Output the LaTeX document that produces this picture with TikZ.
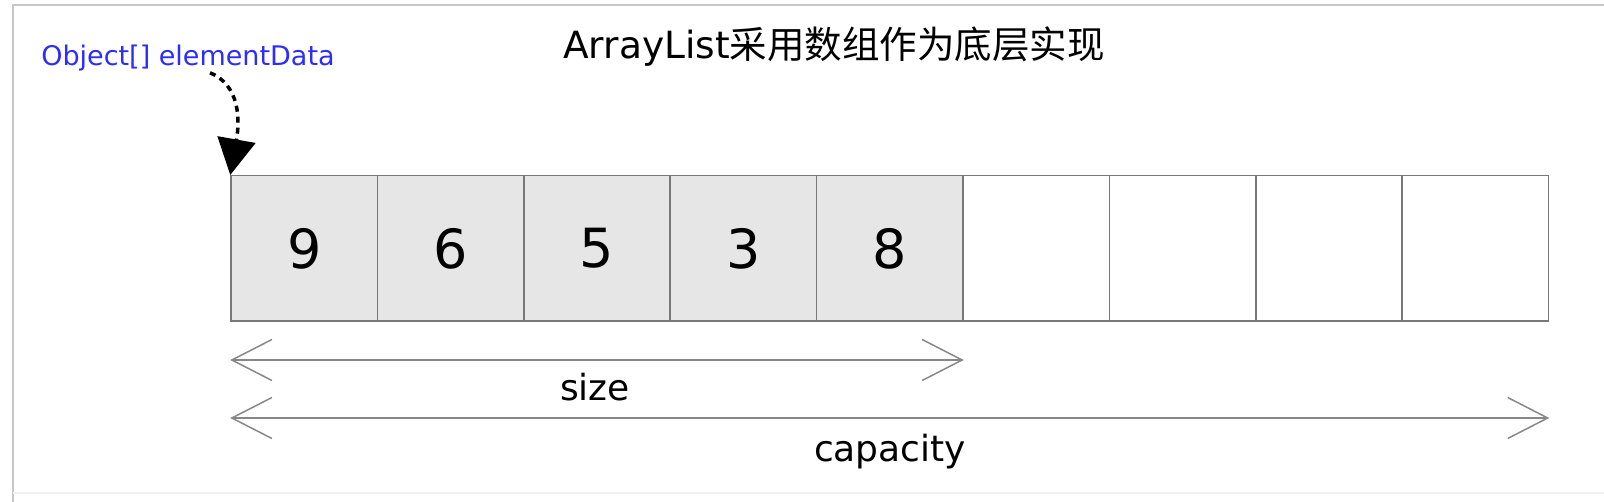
\documentclass[tikz,border=0pt]{standalone}
\usepackage{fontspec}
\setmainfont{DejaVu Sans}
\newfontfamily\cjk{Noto Sans CJK SC}
\usetikzlibrary{arrows.meta,calc}
\definecolor{cellgray}{RGB}{230,230,230}
\definecolor{cellline}{RGB}{120,120,120}
\definecolor{dimgray}{RGB}{136,136,136}
\definecolor{ptrblue}{RGB}{45,45,250}
\definecolor{framegray}{RGB}{200,200,200}
\begin{document}
\begin{tikzpicture}[x=1pt, y=-1pt,
    cell/.style={draw=cellline, line width=1.5pt, minimum width=146.4pt,
        minimum height=145.5pt, inner sep=0pt, font=\fontsize{54}{60}\selectfont},
    dimline/.style={draw=dimgray, line width=1.5pt,
        {Straight Barb[length=40pt,width=41pt]}-{Straight Barb[length=40pt,width=41pt]}},
    label/.style={anchor=base, font=\fontsize{36}{43}\selectfont}]
    \useasboundingbox (0,0) rectangle (1604,502);
    % Frame
    \draw[framegray, line width=2pt] (13,502) -- (13,5) -- (1604,5);
    \draw[black!6, line width=1.5pt] (13,493) -- (1604,493);
    % Title
    \node[label, font=\fontsize{37.5}{44}\selectfont] (title) at (834,59)
        {ArrayList{\cjk 采用数组作为底层实现}};
    % Cells (used)
    \foreach \v [count=\i] in {9,6,5,3,8}
        \node[cell, fill=cellgray] (c\i) at ({231+146.4*(\i-0.5)},248.5) {\v};
    % Cells (free)
    \foreach \i in {6,...,9}
        \node[cell] (c\i) at ({231+146.4*(\i-0.5)},248.5) {};
    % Pointer
    \node[anchor=base, inner sep=1pt, text=ptrblue, font=\fontsize{27}{32}\selectfont]
        (ptr) at (188,66) {Object[] elementData};
    \draw[line width=3.5pt, dash pattern=on 6pt off 5pt,
        -{Triangle[length=36pt,width=38pt]}]
        ([xshift=22pt]ptr.south) .. controls (240,85) and (240,120) .. (c1.north west);
    % Size and capacity
    \coordinate (sizeL) at ($(c1.south west)+(0,38)$);
    \coordinate (sizeR) at ($(c5.south east)+(0,38)$);
    \coordinate (capL) at ($(c1.south west)+(0,96)$);
    \coordinate (capR) at ($(c9.south east)+(0,96)$);
    \draw[dimline] (sizeL) -- (sizeR);
    \draw[dimline] (capL) -- (capR);
    \node[label] (size) at (595,401) {size};
    \node[label] (cap) at (890,461) {capacity};
\end{tikzpicture}
\end{document}
